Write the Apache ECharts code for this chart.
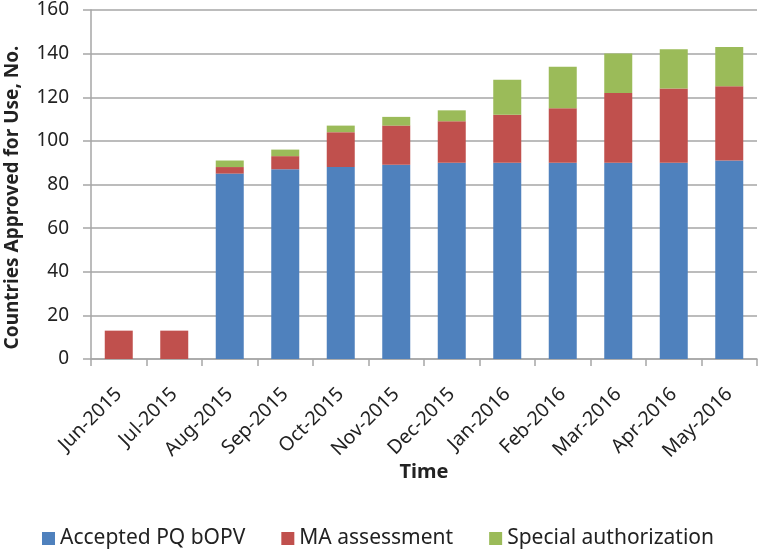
<!DOCTYPE html>
<html>
<head>
<meta charset="utf-8">
<script src="https://cdn.jsdelivr.net/npm/echarts@6/dist/echarts.min.js"></script>
<style>html,body{margin:0;padding:0;background:#fff;}#c{width:760px;height:550px;}</style>
</head>
<body>
<div id="c"></div>
<script>
const categories = ['Jun-2015','Jul-2015','Aug-2015','Sep-2015','Oct-2015','Nov-2015','Dec-2015','Jan-2016','Feb-2016','Mar-2016','Apr-2016','May-2016'];
const acceptedPQ = [0, 0, 85, 87, 88, 89, 90, 90, 90, 90, 90, 91];
const maAssessment = [13, 13, 3, 6, 16, 18, 19, 22, 25, 32, 34, 34];
const specialAuth = [0, 0, 3, 3, 3, 4, 5, 16, 19, 18, 18, 18];
const seriesNames = ['Accepted PQ bOPV', 'MA assessment', 'Special authorization'];
const colors = ['#4F81BD', '#C0504D', '#9BBB59'];

const FONT = "'Noto Sans', sans-serif";
const chart = echarts.init(document.getElementById('c'));
const mk = (name, data, color) => ({
  name, type: 'bar', stack: 'total', data, barWidth: 28,
  itemStyle: { color }, emphasis: { disabled: true }
});
chart.setOption({
  animation: false,
  textStyle: { fontFamily: FONT, color: '#222' },
  grid: { left: 91, right: 3, top: 10, bottom: 191, containLabel: false, outerBoundsMode: 'none' },
  legend: {
    left: 37, top: 523, itemWidth: 13, itemHeight: 13, itemGap: 36, icon: 'rect',
    textStyle: { fontFamily: FONT, fontSize: 21, color: '#222' },
    data: seriesNames
  },
  xAxis: {
    type: 'category', data: categories,
    name: 'Time', nameLocation: 'middle', nameGap: 103, nameMoveOverlap: false,
    nameTextStyle: { fontFamily: FONT, fontSize: 20, fontWeight: 'bold', color: '#222', verticalAlign: 'top' },
    axisLine: { lineStyle: { color: '#A6A6A6', width: 1.5 } },
    axisTick: { show: true, length: 7, alignWithLabel: false, lineStyle: { color: '#A6A6A6', width: 1.5 } },
    axisLabel: { rotate: 45, fontSize: 19.5, color: '#222', margin: 18, interval: 0, fontFamily: FONT, verticalAlign: 'top', padding: [0, 10, 0, 0] }
  },
  yAxis: {
    type: 'value', min: 0, max: 160, interval: 20,
    name: 'Countries Approved for Use, No.', nameLocation: 'middle', nameGap: 69, nameMoveOverlap: false,
    nameTextStyle: { fontFamily: FONT, fontSize: 19, fontWeight: 'bold', color: '#222', padding: [0, 26, 0, 0] },
    axisLine: { show: true, lineStyle: { color: '#A6A6A6', width: 1.5 } },
    axisTick: { show: true, length: 8, lineStyle: { color: '#A6A6A6', width: 1.5 } },
    axisLabel: { fontSize: 19, color: '#222', margin: 22, fontFamily: FONT },
    splitLine: { show: true, lineStyle: { color: '#A6A6A6', width: 1.5 } }
  },
  series: [
    mk(seriesNames[0], acceptedPQ, colors[0]),
    mk(seriesNames[1], maAssessment, colors[1]),
    mk(seriesNames[2], specialAuth, colors[2])
  ]
});
</script>
</body>
</html>
